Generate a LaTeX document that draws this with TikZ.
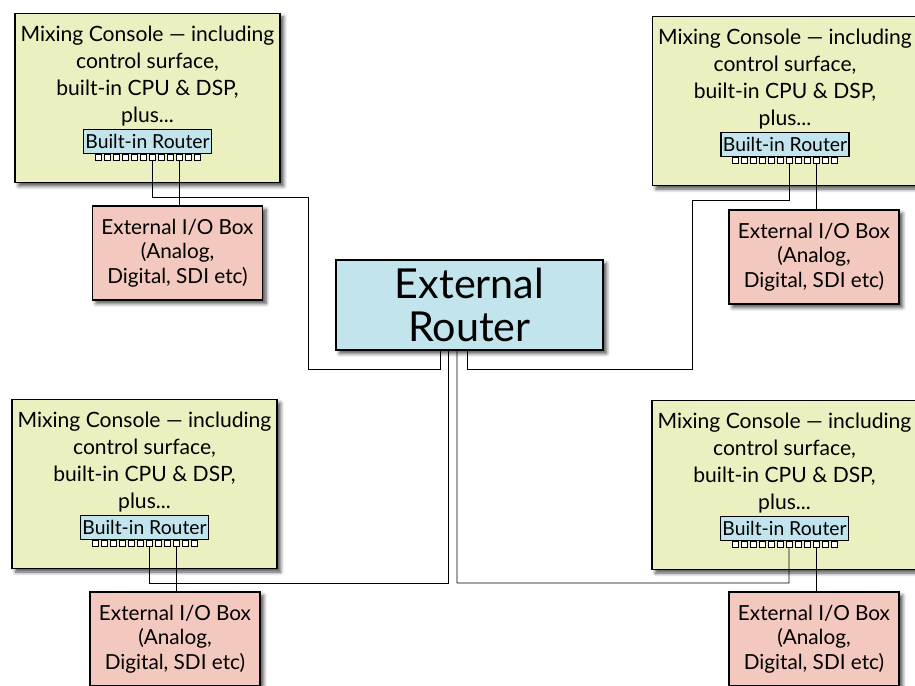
\documentclass[tikz,border=0pt]{standalone}
\usepackage{fontspec}
\setmainfont{Lato}
\usetikzlibrary{shadows.blur}

\definecolor{consolefill}{RGB}{236,240,192}
\definecolor{iofill}{RGB}{243,200,190}
\definecolor{routerfill}{RGB}{194,229,237}

\tikzset{
	boxshadow/.style={blur shadow={shadow xshift=0.07cm,shadow yshift=-0.07cm,shadow blur steps=6,shadow opacity=70}},
	console/.style={draw,line width=0.8pt,fill=consolefill,minimum width=5.3cm,minimum height=3.38cm,boxshadow},
	consoletext/.style={align=center,inner sep=0pt,font=\fontsize{12}{15.4}\selectfont},
	inrouter/.style={draw,line width=0.6pt,fill=routerfill,minimum width=2.56cm,minimum height=0.48cm,inner sep=0pt,font=\fontsize{11}{13}\selectfont},
	port/.style={draw,line width=0.4pt,fill=white,minimum width=0.12cm,minimum height=0.11cm,inner sep=0pt,anchor=north},
	iobox/.style={draw,line width=0.8pt,fill=iofill,minimum width=3.4cm,minimum height=1.88cm,align=center,font=\fontsize{11.8}{14}\selectfont,boxshadow},
	extrouter/.style={draw,line width=0.8pt,fill=routerfill,minimum width=5.34cm,minimum height=1.8cm,align=center,font=\fontsize{23.5}{24}\selectfont,boxshadow},
	wire/.style={line width=0.55pt}
}

\begin{document}
\begin{tikzpicture}
	\useasboundingbox (0,0) rectangle (18.3,-13.72);
	% the four consoles, each with its built-in router
	\node[console] (c1) at (2.95,-1.96) {};
	\node[console] (c2) at (15.70,-2.02) {};
	\node[console] (c3) at (2.89,-9.68) {};
	\node[console] (c4) at (15.69,-9.70) {};
	\foreach \c in {c1,c2,c3,c4} {
		\node[consoletext] (\c-txt) at ([yshift=-1.27cm]\c.north) {Mixing Console — including\\control surface,\\built-in CPU \& DSP,\\plus...};
		\node[inrouter] (\c-r) at ([yshift=-2.58cm]\c.north) {Built-in Router};
		\foreach \i in {0,...,11}
			\node[port] (\c-p\i) at ([xshift={(\i-5.5)*0.18cm}]\c-r.south) {};
	}
	%
	\node[extrouter] (ext) at (9.39,-6.10) {External\\Router};
	%
	\node[iobox] (io1) at (3.55,-5.06) {External I/O Box\\(Analog,\\Digital, SDI etc)};
	\node[iobox] (io2) at (16.28,-5.14) {External I/O Box\\(Analog,\\Digital, SDI etc)};
	\node[iobox] (io3) at (3.50,-12.78) {External I/O Box\\(Analog,\\Digital, SDI etc)};
	\node[iobox] (io4) at (16.28,-12.78) {External I/O Box\\(Analog,\\Digital, SDI etc)};
	%
	\draw[wire] (c1-p9.south) -- (c1-p9.south |- io1.north);
	\draw[wire] (c2-p9.south) -- (c2-p9.south |- io2.north);
	\draw[wire] (c3-p9.south) -- (c3-p9.south |- io3.north);
	\draw[wire] (c4-p9.south) -- (c4-p9.south |- io4.north);
	%
	\draw[wire] (c1-p6.south) |- (6.16,-3.94) |- (8.80,-7.38) -- ([xshift=-0.59cm]ext.south);
	\draw[wire] (c2-p6.south) |- (13.84,-4.00) |- (9.34,-7.38) -- ([xshift=-0.05cm]ext.south);
	\draw[wire] (c3-p6.south) |- (8.96,-11.66) -- ([xshift=-0.43cm]ext.south);
	\draw[wire] (c4-p6.south) |- (9.14,-11.66) -- ([xshift=-0.25cm]ext.south);
\end{tikzpicture}
\end{document}
